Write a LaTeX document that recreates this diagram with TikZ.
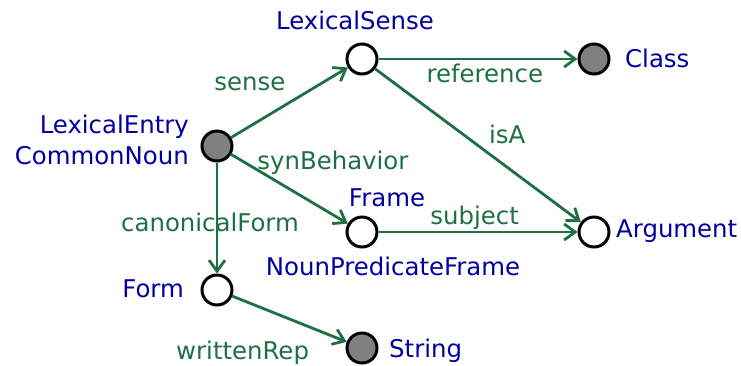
\documentclass[tikz,border=0pt]{standalone}
\usepackage{fontspec}
\setmainfont{DejaVu Sans}
\usetikzlibrary{arrows.meta}
\definecolor{egreen}{RGB}{30,112,68}
\definecolor{nblue}{RGB}{0,0,160}
\begin{document}
\begin{tikzpicture}[x=1pt,y=-1pt,
  font=\fontsize{24.4}{31}\selectfont,
  res/.style={circle,draw=black,line width=3pt,minimum size=30pt,inner sep=0pt,fill=white},
  lit/.style={res,fill=black!50},
  nm/.style={text=nblue,inner sep=0pt},
  rel/.style={draw=egreen,line width=2.8pt,-{Straight Barb[length=11pt,width=16pt]}},
  lb/.style={text=egreen,inner sep=0pt}]
\useasboundingbox (0,0) rectangle (741,365);
\node[lit] (le) at (217,146) {};
\node[res] (ls) at (362,59) {};
\node[lit] (cl) at (594,59) {};
\node[res] (fr) at (362,232) {};
\node[res] (ar) at (594,232) {};
\node[res] (fo) at (217,290) {};
\node[lit] (st) at (362,348) {};
\node[nm] (lsn) at (355,20) {LexicalSense};
\node[nm,anchor=west] (cln) at (625,58) {Class};
\node[nm,anchor=east,align=right] (len) at (189,140) {LexicalEntry\\CommonNoun};
\node[nm] (frn) at (387,198) {Frame};
\node[nm] (npf) at (393,266) {NounPredicateFrame};
\node[nm,anchor=west] (arn) at (616,231) {Argument};
\node[nm,anchor=east] (fon) at (184,289) {Form};
\node[nm,anchor=west] (stn) at (389,351) {String};
\draw[rel] (le) -- node[lb,pos=0.357,xshift=-23pt,yshift=29pt] {sense} (ls);
\draw[rel] (ls) -- node[lb,pos=0.534,yshift=-14pt] {reference} (cl);
\draw[rel] (ls) -- node[lb,pos=0.559,xshift=17pt,yshift=20pt] {isA} (ar);
\draw[rel] (le) -- node[lb,pos=0.658,xshift=25pt,yshift=37pt] {synBehavior} (fr);
\draw[rel] (fr) -- node[lb,pos=0.483,yshift=14pt] {subject} (ar);
\draw[rel] (le) -- node[lb,pos=0.528,xshift=-7pt,yshift=-1pt] {canonicalForm} (fo);
\draw[rel] (fo) -- node[lb,pos=0.291,xshift=-23pt,yshift=-43pt] {writtenRep} (st);
\end{tikzpicture}
\end{document}
